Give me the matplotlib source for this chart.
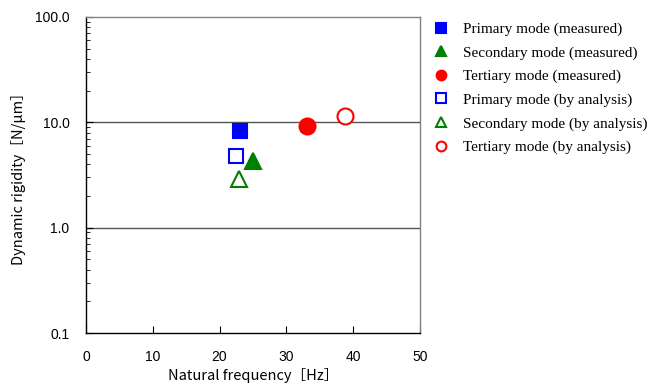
import matplotlib.pyplot as plt
from matplotlib.lines import Line2D
from matplotlib.ticker import FixedLocator, FormatStrFormatter, LogLocator, NullFormatter

# data
labels = ['Primary mode (measured)', 'Secondary mode (measured)', 'Tertiary mode (measured)',
          'Primary mode (by analysis)', 'Secondary mode (by analysis)', 'Tertiary mode (by analysis)']
freq = [23.0, 25.0, 33.1, 22.5, 22.9, 38.8]
rigidity = [8.3, 4.3, 9.2, 4.8, 2.9, 11.5]
markers = ['s', '^', 'o', 's', '^', 'o']
colors = ['#0000FF', '#008000', '#FF0000', '#0000FF', '#008000', '#FF0000']
filled = [True, True, True, False, False, False]
sizes = [10, 11, 11.5, 10, 11, 11.5]

fig = plt.figure(figsize=(6.62, 3.85), dpi=100)
ax = fig.add_axes([0.130, 0.135, 0.504, 0.821])

for f, r, m, c, fl, s in zip(freq, rigidity, markers, colors, filled, sizes):
    ax.plot([f], [r], linestyle='none', marker=m, markersize=s,
            markerfacecolor=c if fl else 'white', markeredgecolor=c,
            markeredgewidth=1.5, zorder=3)

ax.set_yscale('log')
ax.set_xlim(0, 50)
ax.set_ylim(0.1, 100)
ax.set_xticks([0, 10, 20, 30, 40, 50])
ax.yaxis.set_major_locator(FixedLocator([0.1, 1, 10, 100]))
ax.yaxis.set_major_formatter(FormatStrFormatter('%.1f'))
ax.yaxis.set_minor_locator(LogLocator(base=10, subs=range(2, 10)))
ax.yaxis.set_minor_formatter(NullFormatter())

# horizontal grid at 1 and 10
for yv in [1, 10]:
    ax.axhline(yv, color='#555555', linewidth=1.0, zorder=1)

ax.tick_params(axis='both', which='both', direction='in', right=False, top=False,
               labelsize=10, colors='black')
ax.tick_params(axis='x', which='major', length=5, pad=12)
ax.tick_params(axis='y', which='major', length=5, pad=12)
ax.tick_params(axis='y', which='minor', length=3)
for lab in ax.get_xticklabels() + ax.get_yticklabels():
    lab.set_family('Liberation Sans')

ax.spines['left'].set_color('black')
ax.spines['bottom'].set_color('black')
ax.spines['top'].set_color('#808080')
ax.spines['right'].set_color('#808080')
for sp in ax.spines.values():
    sp.set_linewidth(1.0)

ax.set_xlabel('Natural frequency［Hz］', fontsize=10.5,
              family=['Noto Sans CJK JP', 'DejaVu Sans'], labelpad=3)
ax.set_ylabel('Dynamic rigidity［N/μm］', fontsize=10.5,
              family=['Noto Sans CJK JP', 'DejaVu Sans'], labelpad=6)

handles = []
for lab, m, c, fl in zip(labels, markers, colors, filled):
    handles.append(Line2D([], [], linestyle='none', marker=m, markersize=7,
                          markerfacecolor=c if fl else 'white', markeredgecolor=c,
                          markeredgewidth=1.5, label=lab))
fig.legend(handles=handles, loc='upper left', bbox_to_anchor=(0.632, 0.978),
           frameon=False, prop={'family': 'Liberation Serif', 'size': 11},
           labelspacing=0.64, handletextpad=0.8, handlelength=1.2)

plt.savefig('out.png', dpi=100)
